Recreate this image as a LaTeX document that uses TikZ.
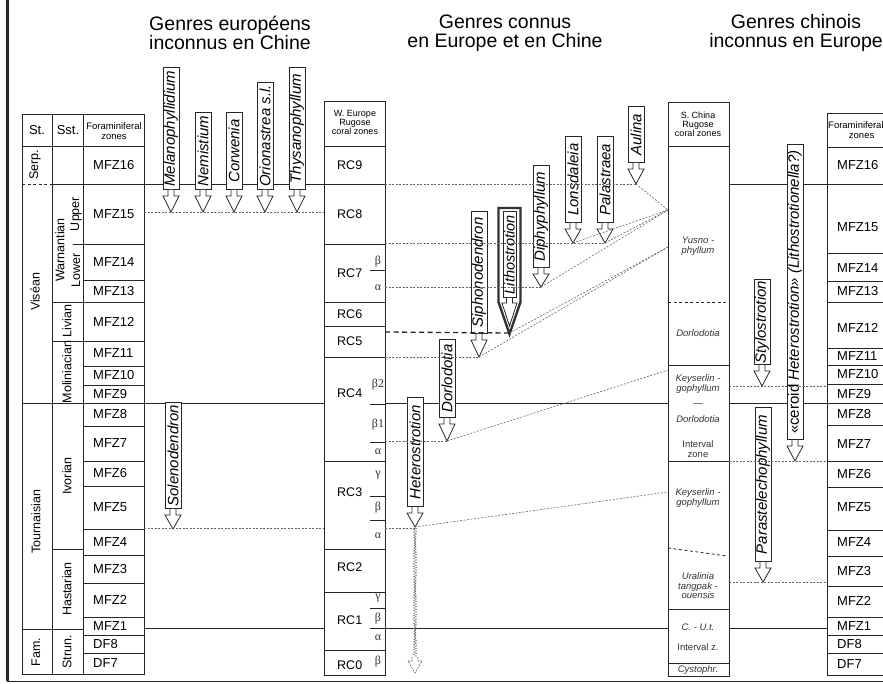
\documentclass[tikz,border=0pt]{standalone}
\usepackage{fontspec}
\setmainfont{Liberation Sans}
\newfontfamily\grk{Liberation Serif}
\usetikzlibrary{decorations.pathmorphing}
\newcommand\fs[1]{\fontsize{#1}{#1}\selectfont}
\newcommand\garrow[6]{%
  \node[gbox, minimum width={(#4)-(#3)}] (#1) at (#2,#4) {#6};
  \draw[ln, fill=white] ({#2-3},#4) -- ({#2-3},{#4+6}) -- ({#2-8},{#4+6}) -- (#2,#5) -- ({#2+8},{#4+6}) -- ({#2+3},{#4+6}) -- ({#2+3},#4);
  \coordinate (#1-tip) at (#2,#5);
}
\begin{document}
\begin{tikzpicture}[x=1pt,y=-1pt,
  ln/.style={line width=0.8pt, draw=black!85},
  dl/.style={line width=0.6pt, draw=black!60, dash pattern=on 2pt off 1.5pt},
  gbox/.style={draw=black!85, line width=0.8pt, fill=white, rotate=90, anchor=west, inner sep=0pt, minimum height=16pt, font=\fs{15}\itshape},
  lab/.style={anchor=west, inner sep=0pt, font=\fs{13}},
  rlab/.style={rotate=90, inner sep=0pt, font=\fs{12.5}},
  gr/.style={inner sep=0pt, font=\grk\fs{12}, text=black!80},
  cz/.style={inner sep=0pt, font=\fs{9.5}\itshape, text=black!80},
  czu/.style={inner sep=0pt, font=\fs{9.5}, text=black!80},
  hd/.style={inner sep=0pt, font=\fs{9}, align=center},
  ttl/.style={inner sep=0pt, font=\fs{19.5}, align=center}]
\useasboundingbox (0,0) rectangle (883,684);
\fill[white] (0,0) rectangle (883,684);
% frame
\draw[line width=3pt, black!85] (7,0) -- (7,681);
\draw[ln] (7,681) -- (883,681);
% titles
\node[ttl] (t1) at (230,33) {Genres européens\\inconnus en Chine};
\node[ttl] (t2) at (505,33) {Genres connus\\en Europe et en Chine};
\node[ttl] (t3) at (796,33) {Genres chinois\\inconnus en Europe};
% ---------------- left table
\draw[ln] (22,114) rectangle (144,674);
\draw[ln] (52,114) -- (52,674) (83,114) -- (83,674);
\draw[ln] (22,146) -- (144,146);
\draw[ln, dash pattern=on 3pt off 2.5pt] (22,184) -- (52,184);
\draw[ln] (52,184) -- (144,184);
\draw[ln] (22,403) -- (144,403) (22,629) -- (83,629);
\draw[ln] (52,302) -- (144,302) (52,341) -- (144,341) (52,549) -- (83,549);
\draw[ln] (73,244) -- (144,244);
\foreach \y in {280,366,385,426,461,486,529,555,583,617,635,653}
  \draw[ln] (83,\y) -- (144,\y);
\node[font=\fs{13}, inner sep=0pt] (hst) at (37,130) {St.};
\node[font=\fs{13}, inner sep=0pt] (hsst) at (68,130) {Sst.};
\node[hd, font=\fs{9.5}] (hfz) at (114,131) {Foraminiferal\\zones};
\node[rlab] (serp) at (35,165) {Serp.};
\node[rlab] (vis) at (35,292) {Viséan};
\node[rlab] (tou) at (36,522) {Tournaisian};
\node[rlab] (fam) at (36,652) {Fam.};
\node[rlab] (war) at (60,250) {Warnantian};
\node[rlab] (upp) at (76,214) {Upper};
\node[rlab] (low) at (76,270) {Lower};
\node[rlab] (liv) at (67,321) {Livian};
\node[rlab] (mol) at (67,372) {Moliniacian};
\node[rlab] (ivo) at (67,476) {Ivorian};
\node[rlab] (has) at (67,589) {Hastarian};
\node[rlab] (str) at (67,652) {Strun.};
\foreach \t/\y [count=\i] in {MFZ16/165,MFZ15/214,MFZ14/262,MFZ13/291,MFZ12/321.5,MFZ11/353.5,MFZ10/375.5,MFZ9/394,MFZ8/414.5,MFZ7/443.5,MFZ6/473.5,MFZ5/507.5,MFZ4/542,MFZ3/569,MFZ2/600,MFZ1/626,DF8/644,DF7/663.5}
  \node[lab] (lf\i) at (93,\y) {\t};
% ---------------- W Europe column
\draw[ln] (324,101) rectangle (385,675);
\draw[ln] (324,146) -- (385,146);
\foreach \y in {184,244,302,326,357,461,549,592,650}
  \draw[ln] (324,\y) -- (385,\y);
\foreach \y in {270,404,442,496,520,608,628}
  \draw[ln] (370,\y) -- (385,\y);
\node[hd] (hwe) at (355,122) {W. Europe\\Rugose\\coral zones};
\foreach \t/\y [count=\i] in {RC9/165,RC8/214,RC7/273,RC6/314,RC5/341,RC4/393,RC3/492,RC2/567,RC1/620,RC0/665}
  \node[lab, font=\fs{12.5}] (rc\i) at (337,\y) {\t};
\foreach \t/\y [count=\i] in {β/262,α/288,β2/385,β1/425,α/452,γ/475,β/508,α/536,γ/598,β/619,α/638,β/662}
  \node[gr] (gk\i) at (378,\y) {\t};
% ---------------- S China column
\draw[ln] (668,102) rectangle (729,676);
\draw[ln] (668,146) -- (729,146);
\draw[ln, dash pattern=on 3pt off 2.5pt] (668,302) -- (729,302);
\draw[ln, dash pattern=on 3pt off 2.5pt] (668,548) -- (727,556);
\foreach \y in {365,461,609,663}
  \draw[ln] (668,\y) -- (729,\y);
\node[hd] (hsc) at (698,124) {S. China\\Rugose\\coral zones};
\node[cz, align=center] (cz1) at (698,246) {Yusno -\\phyllum};
\node[cz] (cz2) at (698,333) {Dorlodotia};
\node[cz, align=center] (cz3) at (698,384) {Keyserlin -\\gophyllum};
\node[czu] (cz4) at (698,405) {—};
\node[cz] (cz5) at (698,419) {Dorlodotia};
\node[czu, align=center] (cz6) at (698,449) {Interval\\zone};
\node[cz, align=center] (cz7) at (698,498) {Keyserlin -\\gophyllum};
\node[cz, align=center] (cz8) at (698,586) {Uralinia\\tangpak -\\ouensis};
\node[cz] (cz9) at (698,627) {C. - U.t.};
\node[czu] (cz10) at (698,647) {Interval z.};
\node[cz] (cz11) at (698,670) {Cystophr.};
% ---------------- right table
\draw[ln] (827,113) rectangle (895,675);
\foreach \y in {147,184,253,281,302,348,365,384,403,425,461,487,530,556,586,617,635,653}
  \draw[ln] (827,\y) -- (895,\y);
\node[hd, font=\fs{9.5}, anchor=west] (hfz2) at (828,130) {Foraminiferal\\\hspace*{1.2em}zones};
\foreach \t/\y [count=\i] in {MFZ16/165,MFZ15/227,MFZ14/268,MFZ13/291,MFZ12/328,MFZ11/356,MFZ10/374,MFZ9/394,MFZ8/414,MFZ7/444,MFZ6/474,MFZ5/507,MFZ4/542,MFZ3/571,MFZ2/601,MFZ1/626,DF8/644,DF7/664}
  \node[lab] (rt\i) at (837,\y) {\t};
% ---------------- correlation lines
\draw[ln] (144,184) -- (324,184) (729,184) -- (827,184);
\draw[ln] (144,403) -- (324,403) (385,403) -- (668,403) (729,403) -- (827,403);
\draw[ln] (144,628) -- (324,628) (385,628) -- (668,628) (729,628) -- (827,628);
\draw[dl] (144,212) -- (324,212);
\draw[dl] (144,528) -- (324,528);
\coordinate (A) at (668,210);
\coordinate (B) at (668,247);
\coordinate (C) at (668,370);
\coordinate (D) at (668,492);
% ---------------- arrows
\garrow{mel}{171}{68}{190}{212}{Melanophyllidium}
\garrow{nem}{203}{113}{190}{212}{Nemistium}
\garrow{cor}{234}{113}{190}{212}{Corwenia}
\garrow{ori}{265}{83}{190}{212}{Orionastrea s.l.}
\garrow{thy}{297}{68}{190}{212}{Thysanophyllum}
\garrow{sol}{173}{403}{509}{529}{Solenodendron}
\draw[dl] (385,528) -- (415,528);
\draw[line width=0.6pt, black!60, dash pattern=on 2pt off 1pt, decorate, decoration={zigzag, amplitude=1.4pt, segment length=2.6pt}] (415,528) -- (415,657);
\draw[line width=0.6pt, black!60, dash pattern=on 2pt off 1pt] (412,657) -- (412,661) -- (408,661) -- (415,673) -- (422,661) -- (418,661) -- (418,657);
\garrow{het}{415}{398}{507}{527}{Heterostrotion}
\garrow{dor}{447}{340}{418}{441}{Dorlodotia}
\garrow{sip}{479}{212}{334}{357}{Siphonodendron}
\garrow{dip}{541}{166}{268}{287}{Diphyphyllum}
\garrow{lon}{573}{137}{223}{243}{Lonsdaleia}
\garrow{pal}{605}{137}{223}{243}{Palastraea}
\garrow{aul}{636}{107}{163}{184}{Aulina}
% Lithostrotion
\draw[line width=2.4pt, black!80, fill=white] (498.5,208) -- (520.5,208) -- (520.5,302) -- (509.5,334) -- (498.5,302) -- cycle;
\node[gbox, minimum height=13pt, minimum width=86pt, font=\fs{14.5}\itshape] (lit) at (509.5,298) {Lithostrotion};
\draw[ln, fill=white] (506.5,298) -- (506.5,303) -- (502,303) -- (509.5,326) -- (517,303) -- (512.5,303) -- (512.5,298);
\coordinate (lit-tip) at (509.5,333);
% dotted level lines (centre)
\draw[dl] (385,184) -- (aul-tip);
\draw[dl] (385,243) -- (pal-tip);
\draw[dl] (385,287) -- (dip-tip);
\draw[line width=1.3pt, black!85, dash pattern=on 5pt off 3.5pt] (385,332) -- (lit-tip);
\draw[dl] (385,357) -- (sip-tip);
\draw[dl] (385,441) -- (dor-tip);
\draw[dl] (aul-tip) -- (A);
\draw[dl] (pal-tip) -- (A);
\draw[dl] (lon-tip) -- (A);
\draw[dl] (dip-tip) -- (A);
\draw[dl] (lit-tip) -- (B);
\draw[dl] (sip-tip) -- (B);
\draw[dl] (dor-tip) -- (C);
\draw[dl] (het-tip) -- (D);
% right arrows
\garrow{sty}{762}{280}{365}{386}{Stylostrotion}
\garrow{cer}{795}{145}{440}{461}{{\upshape«ceroid} Heterostrotion» (Lithostrotionella?)}
\garrow{par}{763}{408}{562}{582}{Parastelechophyllum}
\draw[dl] (729,386) -- (827,386);
\draw[dl] (729,461) -- (827,461);
\draw[dl] (729,582) -- (827,582);
\end{tikzpicture}
\end{document}
